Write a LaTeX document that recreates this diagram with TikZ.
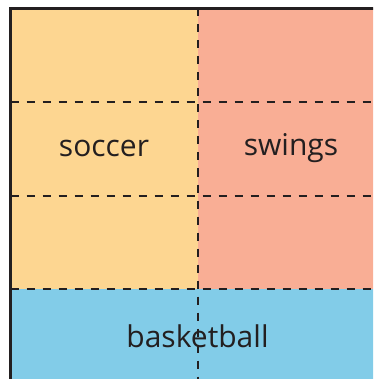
\documentclass[tikz,border=0pt]{standalone}
\usepackage{fontspec}
\setmainfont{Open Sans}
\definecolor{soccerc}{HTML}{FDD691}
\definecolor{swingc}{HTML}{F9AE95}
\definecolor{ballc}{HTML}{82CCE8}
\definecolor{linec}{HTML}{231F20}
\begin{document}
\begin{tikzpicture}[x=1pt,y=-1pt,
  gridline/.style={draw=linec,line width=2pt,dash pattern=on 8pt off 8pt},
  edge/.style={draw=linec,line width=2.6pt},
  lbl/.style={font=\fontsize{30}{32}\selectfont,text=linec,inner sep=0pt}]
\useasboundingbox (0,0) rectangle (373,379);
\clip (0,0) rectangle (373,379);
\fill[soccerc] (10.5,8.5) rectangle (197.5,289);
\fill[swingc] (197.5,8.5) rectangle (390,289);
\fill[ballc] (10.5,289) rectangle (390,390);
\draw[gridline] (10.5,102) -- (390,102);
\draw[gridline] (10.5,195.5) -- (390,195.5);
\draw[gridline] (10.5,289) -- (390,289);
\draw[gridline] (197.5,8.5) -- (197.5,390);
\draw[edge] (10.5,390) -- (10.5,8.5) -- (390,8.5);
\node[lbl] (soccer) at (104,148.5) {soccer};
\node[lbl] (swings) at (291,148.5) {swings};
\node[lbl] (basketball) at (197.5,336.5) {basketball};
\end{tikzpicture}
\end{document}
